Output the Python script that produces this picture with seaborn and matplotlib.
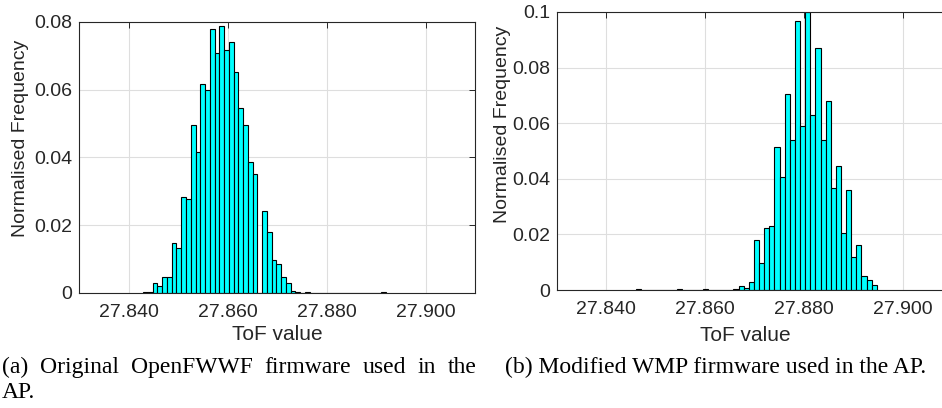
#!/usr/bin/env python
# coding: utf-8

import numpy as np
import pandas as pd
import matplotlib
matplotlib.use("Agg")
import matplotlib.pyplot as plt
from matplotlib.ticker import FuncFormatter
import seaborn as sns

# Histogram (a): original OpenFWWF firmware
bin_start_a = 27.84296
bin_width_a = 0.000961
freq_a = [0.0003, 0.0003, 0.0030, 0.0022, 0.0046, 0.0046, 0.0148, 0.0134,
          0.0282, 0.0276, 0.0495, 0.0416, 0.0617, 0.0599, 0.0779, 0.0709,
          0.0789, 0.0716, 0.0742, 0.0653, 0.0545, 0.0496, 0.0388, 0.0352,
          0.0000, 0.0242, 0.0179, 0.0098, 0.0085, 0.0048, 0.0030, 0.0007,
          0.0003, 0.0000, 0.0002, 0.0000, 0.0000, 0.0000, 0.0000, 0.0000,
          0.0000, 0.0000, 0.0000, 0.0000, 0.0000, 0.0000, 0.0000, 0.0000,
          0.0000, 0.0000, 0.0002]

# Histogram (b): modified WMP firmware
bin_start_b = 27.84604
bin_width_b = 0.001037
freq_b = [0.0002, 0.0000, 0.0000, 0.0000, 0.0000, 0.0000, 0.0000, 0.0000,
          0.0002, 0.0000, 0.0000, 0.0000, 0.0000, 0.0002, 0.0000, 0.0000,
          0.0000, 0.0000, 0.0000, 0.0002,
          0.0016, 0.0007, 0.0029, 0.0179, 0.0096, 0.0222, 0.0230, 0.0514,
          0.0407, 0.0705, 0.0539, 0.0968, 0.0591, 0.1000, 0.0629, 0.0869,
          0.0539, 0.0681, 0.0366, 0.0447, 0.0204, 0.0360, 0.0119, 0.0161,
          0.0049, 0.0036, 0.0017]

x_ticks = [27.84, 27.86, 27.88, 27.90]
y_ticks_a = [0, 0.02, 0.04, 0.06, 0.08]
y_ticks_b = [0, 0.02, 0.04, 0.06, 0.08, 0.1]

caption_a = ["(a)", "Original", "OpenFWWF", "firmware", "used", "in", "the"]
caption_a2 = "AP."
caption_b = "(b) Modified WMP firmware used in the AP."

SANS = "Liberation Sans"
SERIF = "Liberation Serif"
DARK = "#262626"


# Draw one normalised histogram from bin start / width and heights
def draw_hist(ax, start, width, freq, y_ticks):
    edges = start + width * np.arange(len(freq) + 1)
    df = pd.DataFrame({"tof": edges[:-1] + width / 2, "freq": freq})
    sns.histplot(data=df, x="tof", weights="freq", bins=list(edges), ax=ax,
                 color="#00ffff", edgecolor="black", linewidth=0.8,
                 alpha=1.0, zorder=2)
    ax.set_xlim(27.83, 27.91)
    ax.set_ylim(0, y_ticks[-1])
    ax.set_xticks(x_ticks)
    ax.set_yticks(y_ticks)
    ax.xaxis.set_major_formatter(FuncFormatter(lambda v, p: f"{v:.3f}"))
    ax.yaxis.set_major_formatter(FuncFormatter(lambda v, p: f"{v:g}"))
    ax.grid(True, color="#dedede", linewidth=0.8, zorder=0)
    ax.set_axisbelow(True)
    ax.tick_params(direction="in", top=True, right=True, length=4,
                   width=0.7, colors=DARK, labelsize=14)
    ax.tick_params(axis="x", pad=8)
    ax.tick_params(axis="y", pad=5)
    for s in ax.spines.values():
        s.set_visible(True)
        s.set_color(DARK)
        s.set_linewidth(0.8)
    ax.set_xlabel("ToF value", fontsize=15, color=DARK, va="center")
    ax.set_ylabel("Normalised Frequency", fontsize=14, color=DARK, va="center")


# Spread words over a line so it looks justified like the paper caption
def justified_text(fig, words, x0, x1, y, **kw):
    W = fig.get_figwidth() * fig.dpi
    texts = [fig.text(0, y, w, va="baseline", ha="left", **kw) for w in words]
    fig.canvas.draw()
    renderer = fig.canvas.get_renderer()
    widths = [t.get_window_extent(renderer).width for t in texts]
    gap = ((x1 - x0) * W - sum(widths)) / (len(words) - 1)
    pos = x0 * W
    for t, w in zip(texts, widths):
        t.set_x(pos / W)
        pos += w + gap


def main():
    sns.set_theme(style="white")
    plt.rcParams["font.family"] = [SANS, "DejaVu Sans"]

    fig = plt.figure(figsize=(9.42, 4.08), dpi=100)
    ax_a = fig.add_axes([0.0839, 0.2819, 0.4204, 0.6642])
    ax_b = fig.add_axes([0.5913, 0.2892, 0.4193, 0.6814])

    draw_hist(ax_a, bin_start_a, bin_width_a, freq_a, y_ticks_a)
    draw_hist(ax_b, bin_start_b, bin_width_b, freq_b, y_ticks_b)

    ax_a.yaxis.set_label_coords(-0.149, 0.572)
    ax_a.xaxis.set_label_coords(0.5, -0.155)
    ax_b.yaxis.set_label_coords(-0.139, 0.597)
    ax_b.xaxis.set_label_coords(0.478, -0.162)

    # Captions under the panels
    justified_text(fig, caption_a, 0.002, 0.506, 0.0858,
                   fontsize=17, family=SERIF, color="black")
    fig.text(0.002, 0.0245, caption_a2, fontsize=17, family=SERIF,
             va="baseline", ha="left", color="black")
    fig.text(0.536, 0.0858, caption_b, fontsize=17, family=SERIF,
             va="baseline", ha="left", color="black")

    fig.savefig("out.png", dpi=100)


if __name__ == "__main__":
    main()
